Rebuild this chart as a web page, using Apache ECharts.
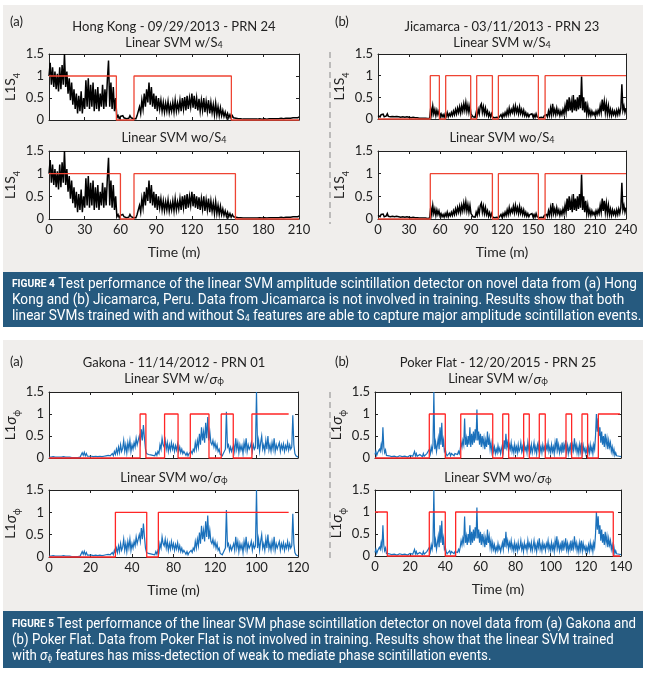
<!DOCTYPE html>
<html><head><meta charset="utf-8">
<script src="https://cdn.jsdelivr.net/npm/echarts@6/dist/echarts.min.js"></script>
<style>html,body{margin:0;padding:0;background:#fff}#c{width:649px;height:676px}</style>
</head><body><div id="c"></div>
<script>
// ---- signals (uniform sampling across each time span) ----
const hkSignal = [
1.0,1.3,0.8,1.2,0.75,1.1,0.7,1.05,0.65,1.2,0.7,1.25,0.8,1.5,0.75,
1.1,0.6,0.95,0.45,0.85,0.35,0.7,0.25,0.6,0.15,0.55,0.2,0.65,0.15,0.5,0.25,
0.9,0.3,0.95,0.25,0.8,0.3,0.85,0.2,0.7,0.25,
0.75,0.2,0.6,0.3,0.8,0.25,0.7,0.3,0.9,1.35,
0.3,0.85,0.25,0.75,0.2,0.5,
0.05,0.1,0.03,0.08,0.04,0.1,0.05,0.09,0.03,0.07,0.04,0.1,0.05,0.08,0.03,
0.06,0.03,0.1,0.08,0.3,0.15,0.45,0.25,0.6,
0.3,0.7,0.4,0.85,0.35,0.75,0.3,0.6,0.25,0.55,0.2,0.5,0.25,0.45,0.2,
0.4,0.18,0.38,0.2,0.42,0.17,0.35,0.2,0.4,0.18,0.45,0.2,0.38,0.22,0.45,
0.2,0.5,0.25,0.52,0.22,0.55,0.25,0.5,0.3,0.6,0.28,0.55,0.25,0.5,0.22,
0.48,0.2,0.45,0.22,0.5,0.18,0.42,0.2,0.45,0.15,0.4,0.17,0.35,0.12,0.38,0.12,0.3,0.1,0.28,0.1,
0.22,0.08,0.18,0.06,0.15,0.05,0.12,0.04,0.1,0.05,0.08,0.04,0.07,0.03,0.06,
0.03,0.05,0.02,0.04,0.02,0.04,0.02,0.03,0.02,0.04,0.02,0.03,0.02,0.04,0.02,0.03,0.03,0.04,0.02,0.04,
0.03,0.04,0.02,0.05,0.03,0.04,0.03,0.05,0.03,0.04,0.03,0.05,0.03,0.05,0.04,0.05,0.03,0.06,0.04,0.05,
0.04,0.06,0.04,0.06,0.05,0.06,0.05,0.07,0.05,0.07
];
const jicaSignal = [
0.08,0.12,0.05,0.1,0.06,0.11,0.05,0.09,0.07,0.12,0.06,
0.1,0.05,0.09,0.06,0.1,0.05,0.08,0.06,0.1,0.05,
0.09,0.04,0.08,0.05,0.09,0.04,0.07,0.05,0.08,0.04,
0.07,0.03,0.06,0.04,0.06,0.03,0.05,0.03,0.05,0.02,
0.04,0.02,0.04,0.02,0.03,0.02,0.03,0.01,0.03,0.02,
0.25,0.1,0.3,0.12,0.22,0.08,0.2,0.1,0.18,0.07,
0.12,0.05,0.1,0.04,0.12,0.06,0.15,0.05,0.12,0.07,
0.15,0.08,0.18,0.1,0.22,0.12,0.25,0.15,0.28,0.14,
0.3,0.18,0.35,0.2,0.38,0.18,0.32,0.15,0.3,0.12,
0.1,0.05,0.08,0.04,0.15,0.08,0.22,0.12,0.3,0.35,
0.15,0.28,0.12,0.25,0.1,0.18,0.06,0.14,0.05,0.12,
0.04,0.08,0.03,0.06,0.04,0.07,0.03,0.05,0.1,0.04,
0.12,0.06,0.15,0.08,0.2,0.1,0.25,0.12,0.22,0.15,
0.28,0.14,0.3,0.15,0.25,0.12,0.28,0.13,0.22,0.1,
0.2,0.08,0.15,0.06,0.12,0.05,0.1,0.06,0.12,0.05,
0.1,0.04,0.12,0.05,0.08,0.03,0.07,0.04,0.06,0.03,
0.08,0.04,0.1,0.05,0.18,0.08,0.25,0.1,0.35,0.12,
0.22,0.1,0.25,0.12,0.2,0.08,0.18,0.1,0.22,0.12,
0.3,0.15,0.45,0.18,0.5,0.2,0.4,0.15,0.55,0.2,
0.45,0.18,0.5,0.22,0.55,0.25,0.98,0.2,0.5,0.15,
0.4,0.12,0.3,0.1,0.2,0.08,0.18,0.1,0.15,0.08,
0.18,0.1,0.2,0.12,0.3,0.15,0.45,0.18,0.4,0.15,
0.35,0.12,0.3,0.1,0.22,0.08,0.2,0.1,0.18,0.08,
0.2,0.1,0.22,0.12,0.25,0.8,0.2,0.3,0.15,0.25
];
const gakSignal = [
0.02,0.01,0.02,0.01,0.03,0.01,0.02,0.01,0.02,0.01,0.02,0.01,0.02,0.01,0.03,0.01,0.02,0.01,0.02,0.01,0.02,0.02,0.01,0.03,0.01,0.02,0.01,0.02,0.01,0.03,0.02,
0.05,0.12,0.06,0.13,0.05,0.1,0.04,0.08,0.04,0.03,
0.04,0.02,0.03,0.02,0.04,0.02,0.03,0.02,0.04,0.02,0.03,0.02,0.04,0.03,0.05,0.03,0.06,0.03,0.05,0.08,
0.1,0.05,0.15,0.08,0.2,0.1,0.25,0.12,0.3,0.15,0.22,0.4,0.15,0.3,0.12,0.35,0.2,0.4,0.15,0.3,0.2,0.35,0.25,0.45,0.3,0.4,
0.5,0.35,0.65,0.4,0.75,0.45,
0.2,0.1,0.06,0.08,0.05,0.07,0.04,0.06,
0.08,0.05,0.12,0.06,0.15,0.1,0.3,0.2,0.45,0.3,
0.25,0.4,0.2,0.35,0.15,0.3,0.18,0.35,0.2,0.3,0.15,0.28,0.18,0.32,0.15,0.25,0.12,0.2,0.1,0.15,
0.15,0.06,0.12,0.05,0.1,0.06,0.15,0.1,0.2,0.15,
0.35,0.2,0.4,0.25,0.55,0.3,0.7,0.4,0.6,0.35,0.8,0.45,0.93,0.4,0.6,0.35,
0.3,0.4,0.25,0.35,0.2,0.3,0.15,0.2,
0.08,0.12,0.05,0.1,0.08,0.2,
1.05,0.25,0.3,0.15,0.25,0.15,
0.12,0.3,0.15,0.45,0.2,0.35,0.12,0.3,0.18,0.28,0.1,0.35,0.2,0.45,0.15,0.3,0.2,0.25,
0.35,0.15,0.3,0.2,0.25,1.5,
0.2,0.4,0.15,0.35,0.5,0.2,0.3,0.15,0.4,0.2,0.5,0.18,0.3,0.15,0.35,0.2,0.45,0.15,0.3,0.2,
0.18,0.35,0.15,0.3,0.2,0.32,0.15,0.28,0.2,0.35,0.18,0.3,0.2,0.25,
0.97,0.3,0.1,0.05,0.03,0.02
];
const pokSignal = [
0.08,0.15,0.06,0.12,0.1,0.2,0.15,
0.3,0.18,0.7,0.25,
0.12,0.18,0.06,0.1,
0.03,0.05,0.02,0.04,0.03,0.05,0.02,0.04,0.03,0.06,0.02,0.04,0.03,0.05,0.02,0.04,0.03,0.05,0.02,0.04,0.03,0.05,0.02,0.04,0.03,0.06,0.03,0.05,0.04,0.08,
0.15,0.05,0.1,0.04,
0.06,0.03,0.08,0.04,0.06,0.03,0.1,0.04,0.08,0.05,0.1,0.06,0.12,
0.2,0.1,0.25,0.15,0.3,
1.5,
0.2,0.35,0.15,0.3,0.45,0.2,0.7,0.3,0.8,0.25,0.4,0.15,0.2,
0.1,0.05,0.08,0.04,0.12,0.05,0.1,0.06,0.14,0.05,0.1,0.06,0.12,0.08,0.15,0.1,
0.2,0.35,0.25,0.4,0.3,0.9,0.3,0.45,
0.25,0.5,0.3,0.7,0.25,0.55,0.3,0.6,0.35,0.65,0.4,
1.1,
0.4,0.6,0.3,0.55,0.25,0.5,0.3,0.45,0.2,0.4,0.25,0.6,0.3,0.45,0.2,0.35,0.15,0.3,
0.15,0.25,0.1,0.2,0.12,0.28,0.15,0.22,0.1,0.2,
0.3,0.15,0.4,0.2,0.55,0.25,0.35,0.15,0.3,0.2,0.35,0.15,0.25,0.12,0.3,0.15,
0.25,0.12,0.3,0.15,0.2,0.35,0.15,0.25,0.1,0.3,0.18,0.25,0.12,0.35,0.2,0.28,0.15,0.3,0.12,0.22,
0.35,0.15,0.25,0.1,0.3,0.2,0.4,0.15,0.25,0.12,0.3,0.18,0.25,0.12,0.28,0.2,0.35,0.15,0.25,0.12,
0.3,0.15,0.25,0.1,0.35,0.2,0.45,0.18,0.3,0.12,0.25,0.15,0.35,0.12,0.3,0.2,0.4,0.15,0.28,0.1,
0.25,0.15,0.35,0.12,0.3,0.18,0.45,0.2,0.3,0.12,0.25,0.1,0.3,0.15,0.35,0.12,0.28,0.15,0.22,0.1,
0.2,0.1,0.25,0.12,0.3,0.15,0.25,0.1,0.3,0.2,0.5,
1.0,0.6,0.9,0.5,0.7,
0.35,0.6,0.3,0.5,0.25,0.55,0.3,0.45,0.2,0.4,0.25,0.35,0.15,0.25,
0.1,0.2,0.06,0.12,0.05,0.08,
0.03,0.04,0.02,0.03
];

// ---- detector outputs: transition times (min) and level of the first segment ----
const hkEdgesW = [0,56.6,71.4,153.2,210];            const hkStartW = 1;
const hkEdgesWo = [0,60,71.4,156.6,210];             const hkStartWo = 1;
const jicaEdgesW = [0,50.6,59.4,65.5,89.7,95.5,110.7,116.5,155.2,161.7,240]; const jicaStartW = 0;
const jicaEdgesWo = [0,50.6,110.7,116.5,155.2,161.7,240];                    const jicaStartWo = 0;
const gakEdgesW = [0,43.9,46.7,55.7,62.2,68.1,77.1,83.0,88.8,97.8,115.5];    const gakStartW = 0;
const gakEdgesWo = [0,32,47.1,52.7,115.5];                                    const gakStartWo = 0;
const pokEdgesW = [0,30.9,40.0,48.8,67.0,72.7,76.1,84.6,87.8,93.5,96.9,108.7,111.9,117.8,121.0,127.1,139.4]; const pokStartW = 0;
const pokEdgesWo = [0,7.0,30.9,40.0,45.9,135.6,139.4];                        const pokStartWo = 1;

// ---- tick labels ----
const hkTicks = ['0','30','60','90','120','150','180','210'];
const jicaTicks = ['0','30','60','90','120','150','180','210','240'];
const gakTicks = ['0','20','40','80','120','100','120'];
const pokTicks = ['0','20','40','60','80','100','120','140'];
const yTicks = ['0','0.5','1','1.5'];

// ---- caption text ----
const cap4 = [
  ['FIGURE 4',' Test performance of the linear SVM amplitude scintillation detector on novel data from (a) Hong'],
  ['','Kong and (b) Jicamarca, Peru. Data from Jicamarca is not involved in training. Results show that both'],
  ['','linear SVMs trained with and without S','4',' features are able to capture major amplitude scintillation events.']
];
const cap5 = [
  ['FIGURE 5',' Test performance of the linear SVM phase scintillation detector on novel data from (a) Gakona and'],
  ['','(b) Poker Flat. Data from Poker Flat is not involved in training. Results show that the linear SVM trained'],
  ['','with ','σ','ϕ',' features has miss-detection of weak to mediate phase scintillation events.']
];

const FONT = 'Lato, "Noto Sans", sans-serif';
const CAPFONT = 'Roboto, sans-serif';
const AX = '#222';

function toXY(vals, span){ const n = vals.length; return vals.map((v,i)=>[i*span/(n-1), v]); }
function steps(edges, start){ const p=[]; for(let i=0;i<edges.length-1;i++){ const lv=(start+i)%2; p.push([edges[i],lv],[edges[i+1],lv]); } return p; }

const RED4 = '#ee4433', RED5 = '#ff2626';
const panels = [
 {left:49,top:54,width:250,height:66,max:210,iv:30,ticks:hkTicks,lab:false,sig:hkSignal,col:'#000',lw:1.5,e:hkEdgesW,s:hkStartW,red:RED4,y:'s4'},
 {left:49,top:151,width:250,height:68,max:210,iv:30,ticks:hkTicks,lab:true,sig:hkSignal,col:'#000',lw:1.5,e:hkEdgesWo,s:hkStartWo,red:RED4,y:'s4'},
 {left:378,top:54,width:248,height:65,max:240,iv:30,ticks:jicaTicks,lab:false,sig:jicaSignal,col:'#000',lw:1.5,e:jicaEdgesW,s:jicaStartW,red:RED4,y:'s4'},
 {left:378,top:151,width:248,height:68,max:240,iv:30,ticks:jicaTicks,lab:true,sig:jicaSignal,col:'#000',lw:1.5,e:jicaEdgesWo,s:jicaStartWo,red:RED4,y:'s4'},
 {left:49,top:392,width:249,height:66,max:120,iv:20,ticks:gakTicks,lab:false,sig:gakSignal,col:'#1a70bb',lw:1.2,e:gakEdgesW,s:gakStartW,red:RED5,y:'sig'},
 {left:49,top:490,width:249,height:67,max:120,iv:20,ticks:gakTicks,lab:true,sig:gakSignal,col:'#1a70bb',lw:1.2,e:gakEdgesWo,s:gakStartWo,red:RED5,y:'sig'},
 {left:375,top:392,width:246,height:66,max:140,iv:20,ticks:pokTicks,lab:false,sig:pokSignal,col:'#1a70bb',lw:1.2,e:pokEdgesW,s:pokStartW,red:RED5,y:'sig'},
 {left:375,top:490,width:246,height:66,max:140,iv:20,ticks:pokTicks,lab:true,sig:pokSignal,col:'#1a70bb',lw:1.2,e:pokEdgesWo,s:pokStartWo,red:RED5,y:'sig'}
];

const grids=[], xAxes=[], yAxes=[], series=[];
const yName = { s4: '{a|L1S}{s|4}', sig: '{a|L1}{g|σ}{s|ϕ}' };
const yRich = {
  a:{fontSize:14,fontFamily:FONT,color:AX,lineHeight:22},
  g:{fontSize:15,fontFamily:FONT,fontStyle:'italic',color:AX,lineHeight:22},
  s:{fontSize:9,fontFamily:FONT,fontStyle:'normal',color:AX,verticalAlign:'bottom',lineHeight:9}
};
panels.forEach((p,g)=>{
  grids.push({left:p.left,top:p.top,width:p.width,height:p.height,show:true,backgroundColor:'#fff',borderWidth:0});
  const common = {gridIndex:g,type:'value',min:0,max:p.max,interval:p.iv,splitLine:{show:false},
    axisLine:{show:true,onZero:false,lineStyle:{color:AX,width:1}},
    axisTick:{show:true,inside:true,length:3,lineStyle:{color:AX}}};
  xAxes.push(Object.assign({},common,{position:'bottom',
    axisLabel:{show:p.lab,color:AX,fontSize:13,fontFamily:FONT,margin:4,
      formatter:(v)=>p.ticks[Math.round(v/p.iv)]},
    name:p.lab?'Time (m)':'',nameLocation:'middle',nameGap:26,
    nameTextStyle:{color:AX,fontSize:14,fontFamily:FONT}}));
  xAxes.push(Object.assign({},common,{position:'top',axisLabel:{show:false}}));
  const yc = {gridIndex:g,type:'value',min:0,max:1.5,interval:0.5,splitLine:{show:false},
    axisLine:{show:true,onZero:false,lineStyle:{color:AX,width:1}},
    axisTick:{show:true,inside:true,length:3,lineStyle:{color:AX}}};
  yAxes.push(Object.assign({},yc,{position:'left',
    axisLabel:{color:AX,fontSize:13,fontFamily:FONT,margin:5,formatter:(v)=>yTicks[Math.round(v/0.5)]},
    name:yName[p.y],nameLocation:'middle',nameGap:20,nameRotate:90,
    nameTextStyle:{rich:yRich}}));
  yAxes.push(Object.assign({},yc,{position:'right',axisLabel:{show:false}}));
  series.push({type:'line',xAxisIndex:2*g,yAxisIndex:2*g,data:toXY(p.sig,p.max),showSymbol:false,symbol:'none',
    sampling:null,lineStyle:{color:p.col,width:p.lw,join:'miter'},z:3,animation:false});
  series.push({type:'line',xAxisIndex:2*g,yAxisIndex:2*g,data:steps(p.e,p.s),showSymbol:false,symbol:'none',
    clip:false,lineStyle:{color:p.red,width:1.3},z:4,animation:false});
});

// ---- text and decoration ----
const tRich = {
  t:{fontSize:13,fontFamily:FONT,color:AX},
  g:{fontSize:14,fontFamily:FONT,fontStyle:'italic',color:AX},
  s:{fontSize:9,fontFamily:FONT,color:AX,verticalAlign:'bottom',lineHeight:9}
};
function txt(x,y,text,align){ return {type:'text',x:x,y:y,z:50,style:{text:text,rich:tRich,fontSize:13,fontFamily:FONT,fill:AX,align:align||'center',verticalAlign:'middle'}}; }

const CAPSIZE = 14;
const capRich = {
  f:{fontSize:10.5,fontWeight:'bold',fontFamily:CAPFONT,color:'#f5b548'},
  w:{fontSize:CAPSIZE,fontFamily:CAPFONT,color:'#fff'},
  wi:{fontSize:CAPSIZE,fontFamily:CAPFONT,fontStyle:'italic',color:'#fff'},
  ws:{fontSize:9,fontFamily:CAPFONT,color:'#fff',verticalAlign:'bottom',lineHeight:9}
};
// horizontal condensing so that each caption's first line spans the same width as in the figure
const mctx = document.createElement('canvas').getContext('2d');
function firstLineWidth(c){
  mctx.font = 'bold 10.5px Roboto'; const a = mctx.measureText(c[0][0]).width;
  mctx.font = CAPSIZE + 'px Roboto'; const b = mctx.measureText(c[0][1]).width;
  return a + b;
}
const scale4 = 625 / firstLineWidth(cap4);
const scale5 = 624 / firstLineWidth(cap5);
function capLine(parts, kind){
  if (parts.length === 2) return (parts[0] ? '{f|' + parts[0] + '}' : '') + '{w|' + parts[1] + '}';
  if (kind === 0) return '{w|' + parts[1] + '}{ws|' + parts[2] + '}{w|' + parts[3] + '}';
  return '{w|' + parts[1] + '}{wi|' + parts[2] + '}{ws|' + parts[3] + '}{w|' + parts[4] + '}';
}
function cap(x,y,text,sc){ return {type:'text',x:x,y:y,z:60,scaleX:sc,style:{text:text,rich:capRich,fontSize:CAPSIZE,fontFamily:CAPFONT,fill:'#fff',align:'left',verticalAlign:'middle'}}; }

const graphic = [
  {type:'rect',z:-10,shape:{x:3,y:5,width:640,height:270},style:{fill:'#f0eeec'}},
  {type:'rect',z:-10,shape:{x:3,y:340,width:640,height:275},style:{fill:'#f0eeec'}},
  {type:'rect',z:-5,shape:{x:3,y:272,width:640,height:55},style:{fill:'#265a7f'}},
  {type:'rect',z:-5,shape:{x:3,y:611,width:640,height:57},style:{fill:'#265a7f'}},
  {type:'line',z:1,shape:{x1:330,y1:52,x2:330,y2:224},style:{stroke:'#888',lineWidth:1,lineDash:[6,4]}},
  {type:'line',z:1,shape:{x1:330,y1:392,x2:330,y2:562},style:{stroke:'#888',lineWidth:1,lineDash:[6,4]}},
  txt(10,22,'{t|(a)}','left'), txt(174,27,'{t|Hong Kong - 09/29/2013 - PRN 24}'),
  txt(174,43,'{t|Linear SVM w/S}{s|4}'), txt(174,138,'{t|Linear SVM wo/S}{s|4}'),
  txt(335,22,'{t|(b)}','left'), txt(502,27,'{t|Jicamarca - 03/11/2013 - PRN 23}'),
  txt(502,43,'{t|Linear SVM w/S}{s|4}'), txt(502,138,'{t|Linear SVM wo/S}{s|4}'),
  txt(10,362,'{t|(a)}','left'), txt(174,363,'{t|Gakona - 11/14/2012 - PRN 01}'),
  txt(174,379,'{t|Linear SVM w/}{g|σ}{s|ϕ}'), txt(174,478,'{t|Linear SVM wo/}{g|σ}{s|ϕ}'),
  txt(335,362,'{t|(b)}','left'), txt(498,363,'{t|Poker Flat - 12/20/2015 - PRN 25}'),
  txt(498,379,'{t|Linear SVM w/}{g|σ}{s|ϕ}'), txt(498,478,'{t|Linear SVM wo/}{g|σ}{s|ϕ}'),
  cap(12,284,capLine(cap4[0],0),scale4), cap(12,300,capLine(cap4[1],0),scale4), cap(12,316,capLine(cap4[2],0),scale4),
  cap(12,624,capLine(cap5[0],1),scale5), cap(12,640,capLine(cap5[1],1),scale5), cap(12,656,capLine(cap5[2],1),scale5)
];

const chart = echarts.init(document.getElementById('c'), null, {renderer:'canvas'});
chart.setOption({backgroundColor:'#fff',animation:false,grid:grids,xAxis:xAxes,yAxis:yAxes,series:series,graphic:graphic});
</script></body></html>
